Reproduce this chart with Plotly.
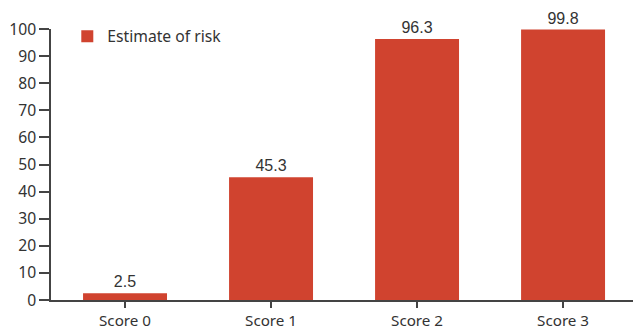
import plotly.graph_objects as go

categories = ["Score 0", "Score 1", "Score 2", "Score 3"]
values = [2.5, 45.3, 96.3, 99.8]
labels = ["2.5", "45.3", "96.3", "99.8"]
y_ticks = list(range(0, 101, 10))

bar_color = "#D0432F"
axis_color = "#444444"
font_family = "Noto Sans, Open Sans, sans-serif"
label_family = "Liberation Sans, Arial, sans-serif"

fig = go.Figure(go.Bar(
    x=list(range(len(categories))),
    y=values,
    name="Estimate of risk",
    marker=dict(color=bar_color, line=dict(width=0)),
    text=labels,
    textposition="outside",
    textfont=dict(size=16, color="#333333", family=label_family),
    cliponaxis=False,
    showlegend=True,
))

fig.update_layout(
    width=633, height=332,
    margin=dict(l=51, r=0, t=29, b=32),
    paper_bgcolor="white", plot_bgcolor="white",
    bargap=0.425,
    font=dict(family=font_family, size=15.7, color="#333333"),
    legend=dict(x=0.028, y=1.035, xanchor="left", yanchor="top",
                bgcolor="rgba(0,0,0,0)", font=dict(size=15.7, color="#333333"),
                itemwidth=30),
    xaxis=dict(
        range=[-0.507, 3.479],
        tickmode="array", tickvals=list(range(len(categories))), ticktext=categories,
        showline=True, linecolor=axis_color, linewidth=1.5,
        ticks="outside", ticklen=6, tickcolor=axis_color, tickwidth=1.5,
        ticklabelstandoff=0,
        showgrid=False, zeroline=False, automargin=False,
        tickfont=dict(size=15.2, color="#333333"),
    ),
    yaxis=dict(
        range=[0, 100],
        tickmode="array", tickvals=y_ticks,
        showline=True, linecolor=axis_color, linewidth=1.5,
        ticks="outside", ticklen=10, tickcolor=axis_color, tickwidth=1.5,
        showgrid=False, zeroline=False, automargin=False,
        tickfont=dict(size=15.7, color="#333333"),
    ),
)

fig.write_html("out.html")
